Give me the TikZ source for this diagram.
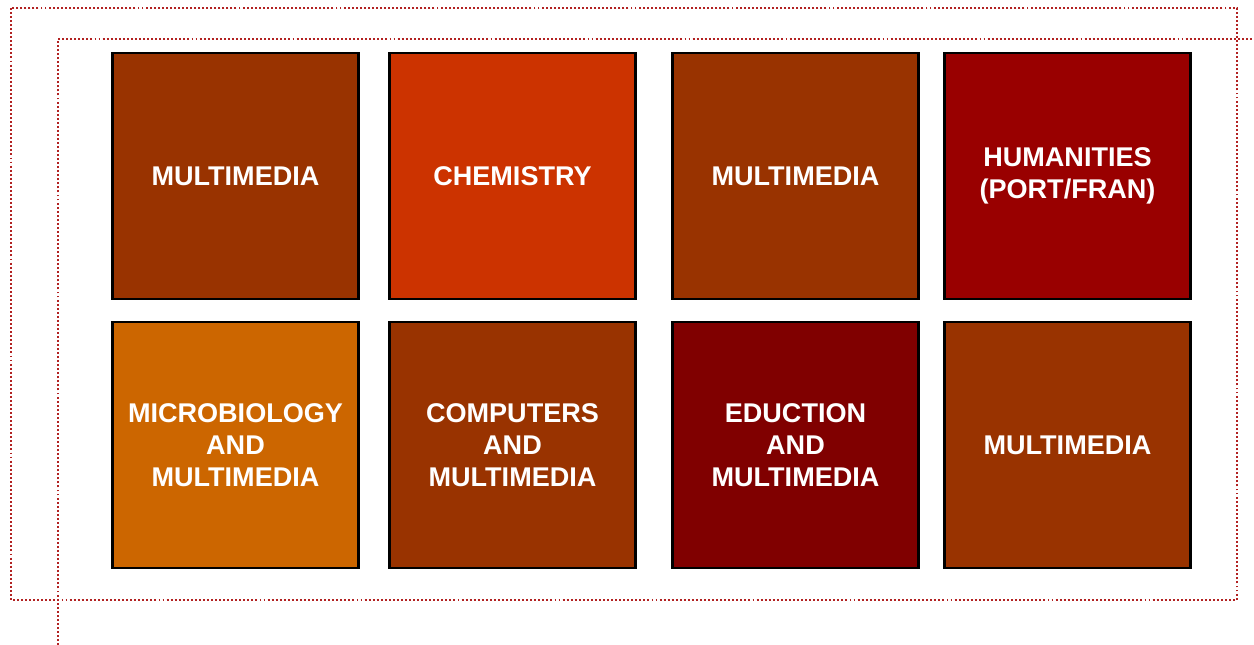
\documentclass[tikz,border=0pt]{standalone}
\usepackage{fontspec}
\setmainfont{Liberation Sans}
\usepackage{tikz}
\usetikzlibrary{positioning}

\definecolor{brown}{HTML}{993300}
\definecolor{rust}{HTML}{CC3300}
\definecolor{crimson}{HTML}{990000}
\definecolor{amber}{HTML}{CC6600}
\definecolor{maroon}{HTML}{800000}
\definecolor{dotred}{HTML}{B22222}

\begin{document}
\begin{tikzpicture}[x=0.02cm,y=-0.02cm]
\tikzstyle{box}=[draw=black, line width=1.2pt, minimum width=4.92cm, minimum height=4.92cm,
  inner sep=0pt, text=white, align=center, font=\fontsize{15.4}{18.2}\selectfont\bfseries]
\tikzstyle{frame}=[dotred, line width=1.2pt, dash pattern=on 1.1pt off 1.2pt]
\useasboundingbox (0,0) rectangle (1254,645);
\fill [white] (0,0) rectangle (1254,645);
% dotted frames
\draw [frame] (11,8) rectangle (1237,600);
\draw [frame] (58,645) -- (58,39) -- (1254,39);
% top row
\node [box, fill=brown] (mm1) at (235.5,176) {MULTIMEDIA};
\node [box, fill=rust] (chem) at (512.5,176) {CHEMISTRY};
\node [box, fill=brown] (mm2) at (795.5,176) {MULTIMEDIA};
\node [box, fill=crimson] (hum) at (1067.5,176) {HUMANITIES\\(PORT/FRAN)};
% bottom row
\node [box, fill=amber] (micro) at (235.5,445) {MICROBIOLOGY\\AND\\MULTIMEDIA};
\node [box, fill=brown] (comp) at (512.5,445) {COMPUTERS\\AND\\MULTIMEDIA};
\node [box, fill=maroon] (edu) at (795.5,445) {EDUCTION\\AND\\MULTIMEDIA};
\node [box, fill=brown] (mm3) at (1067.5,445) {MULTIMEDIA};
\end{tikzpicture}
\end{document}
